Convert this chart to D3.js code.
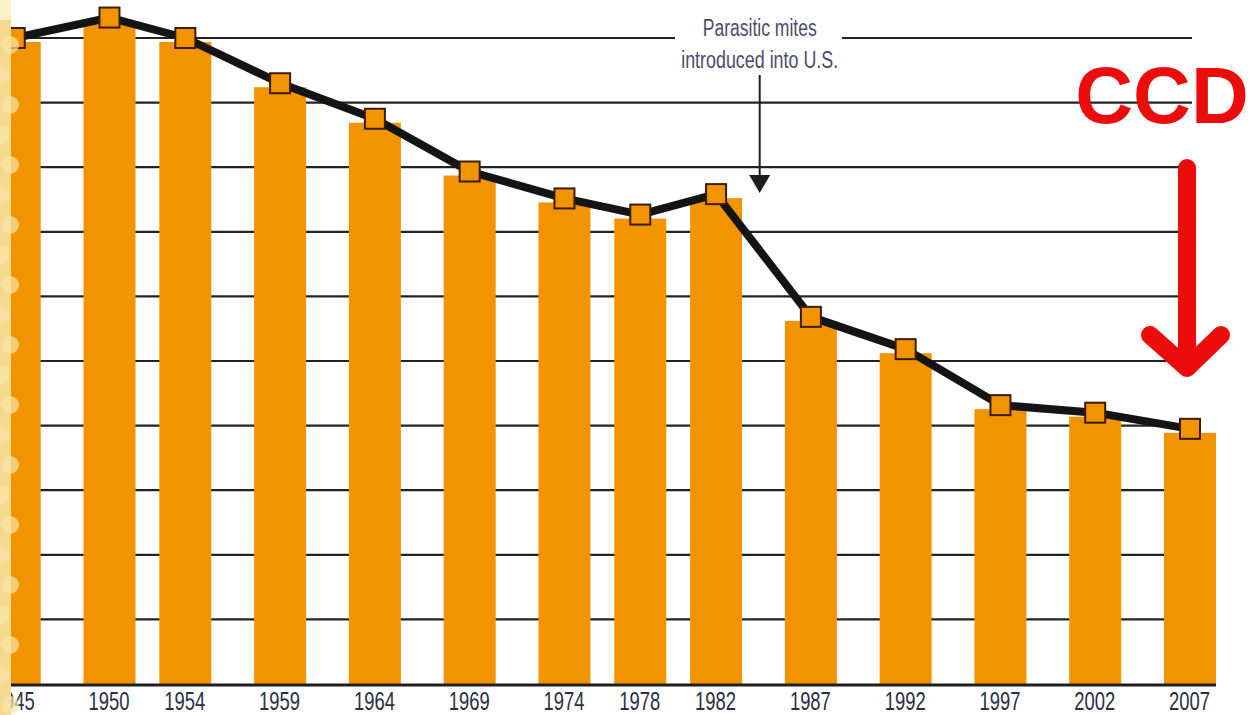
<!DOCTYPE html>
<html>
<head>
<meta charset="utf-8">
<script src="https://cdn.jsdelivr.net/npm/d3@7"></script>
<style>
  html, body { margin: 0; padding: 0; background: #fff; }
  svg { display: block; }
  .year text { font-family: 'Liberation Sans Narrow', 'Liberation Sans', sans-serif; font-size: 25px; fill: #2b2f44; }
  .note { font-family: 'Liberation Sans Narrow', 'Liberation Sans', sans-serif; font-size: 23px; fill: #4b4d6b; }
</style>
</head>
<body>
<div class="chart"></div>
<script>
// US honey bee colonies, millions
const years = [1945, 1950, 1954, 1959, 1964, 1969, 1974, 1978, 1982, 1987, 1992, 1997, 2002, 2007];
const colonies = [6.0, 6.19, 6.0, 5.58, 5.25, 4.76, 4.51, 4.36, 4.55, 3.41, 3.11, 2.59, 2.52, 2.37];
const gridValues = [0.6, 1.2, 1.8, 2.4, 3.0, 3.6, 4.2, 4.8, 5.4, 6.0];
const noteLines = ['Parasitic mites', 'introduced into U.S.'];
const noteYear = 1984.3;
const ccdLabel = 'CCD';

const data = years.map((y, i) => ({ year: y, value: colonies[i] }));

const W = 1260, H = 715;
const orange = '#f29400';

const x = d3.scaleLinear().domain([1950, 2007]).range([109.5, 1190]);
const y = d3.scaleLinear().domain([0, 6]).range([684, 38]);

const svg = d3.select('.chart')
    .append('svg')
        .attr('width', W)
        .attr('height', H);

// gridlines
svg.append('g')
    .selectAll('line')
    .data(gridValues)
    .enter()
        .append('line')
        .attr('x1', 11)
        .attr('x2', 1192)
        .attr('y1', d => y(d))
        .attr('y2', d => y(d))
        .attr('stroke', '#222')
        .attr('stroke-width', 2.2);

// white gap in the top gridline behind the note
svg.append('rect')
    .attr('x', 675).attr('y', 30)
    .attr('width', 167).attr('height', 16)
    .attr('fill', '#fff');

// bars
svg.append('g')
    .selectAll('rect')
    .data(data)
    .enter()
        .append('rect')
        .attr('x', d => x(d.year) - 26)
        .attr('y', d => y(d.value) + 4)
        .attr('width', 52)
        .attr('height', d => y(0) - y(d.value) - 4)
        .attr('fill', orange);

// baseline
svg.append('line')
    .attr('x1', 11).attr('x2', 1216)
    .attr('y1', y(0) + 1).attr('y2', y(0) + 1)
    .attr('stroke', '#1e1e1e')
    .attr('stroke-width', 3);

// year labels
const xAxis = d3.axisBottom(x)
    .tickValues(years)
    .tickFormat(d3.format('d'))
    .tickSize(0)
    .tickPadding(8);

svg.append('g')
    .attr('class', 'year')
    .attr('transform', `translate(-1, ${y(0)})`)
    .call(xAxis)
    .call(g => g.select('.domain').remove())
    .selectAll('text')
        .attr('fill', '#2b2f44')
        .attr('textLength', 41)
        .attr('lengthAdjust', 'spacingAndGlyphs')
        .attr('dy', '0.72em');

// line + markers
const line = d3.line()
    .x(d => x(d.year))
    .y(d => y(d.value));

svg.append('path')
    .datum(data)
    .attr('d', line)
    .attr('fill', 'none')
    .attr('stroke', '#141414')
    .attr('stroke-width', 8)
    .attr('stroke-linejoin', 'round');

svg.append('g')
    .selectAll('rect')
    .data(data)
    .enter()
        .append('rect')
        .attr('x', d => x(d.year) - 10)
        .attr('y', d => y(d.value) - 10)
        .attr('width', 20)
        .attr('height', 20)
        .attr('fill', orange)
        .attr('stroke', '#3a1c00')
        .attr('stroke-width', 2);

// note about mites
const nx = x(noteYear);
svg.append('g')
    .selectAll('text')
    .data(noteLines)
    .enter()
        .append('text')
        .attr('class', 'note')
        .attr('x', nx)
        .attr('y', (d, i) => 36 + i * 32)
        .attr('text-anchor', 'middle')
        .attr('textLength', (d, i) => i === 0 ? 114 : 157)
        .attr('lengthAdjust', 'spacingAndGlyphs')
        .text(d => d);

svg.append('line')
    .attr('x1', nx).attr('x2', nx)
    .attr('y1', 75).attr('y2', 178)
    .attr('stroke', '#1e1e1e')
    .attr('stroke-width', 2);

svg.append('path')
    .attr('d', `M${nx - 10.5},175 L${nx + 10.5},175 L${nx},193 Z`)
    .attr('fill', '#1e1e1e');

// CCD callout
svg.append('text')
    .attr('x', 1162)
    .attr('y', 123)
    .attr('text-anchor', 'middle')
    .style('font-family', "'Liberation Sans', Arial, sans-serif")
    .style('font-weight', 'bold')
    .style('font-size', '80px')
    .attr('fill', '#ec0c0c')
    .text(ccdLabel);

svg.append('path')
    .attr('d', 'M1187,168 L1187,366 M1150,335 L1187,368 L1221,335')
    .attr('fill', 'none')
    .attr('stroke', '#ec0c0c')
    .attr('stroke-width', 18)
    .attr('stroke-linecap', 'round')
    .attr('stroke-linejoin', 'round');

// honeycomb strip at the left edge
const strip = svg.append('g');
strip.append('rect')
    .attr('x', 0).attr('y', 0)
    .attr('width', 11).attr('height', H)
    .attr('fill', '#f5d98c');
strip.append('rect')
    .attr('x', 0).attr('y', 0)
    .attr('width', 11).attr('height', 20)
    .attr('fill', '#fbefcc');
strip.selectAll('circle')
    .data(d3.range(0, 23))
    .enter()
        .append('circle')
        .attr('cx', (d, i) => (i % 2) ? 1 : 10)
        .attr('cy', (d, i) => 45 + i * 30)
        .attr('r', 9)
        .attr('fill', '#f9e4a8')
        .attr('opacity', 0.7);
</script>
</body>
</html>
